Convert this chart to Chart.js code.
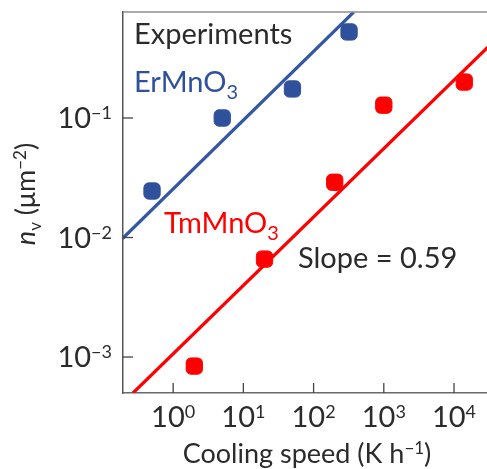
<!DOCTYPE html>
<html>
<head>
<meta charset="utf-8">
<script src="https://cdn.jsdelivr.net/npm/chart.js@4/dist/chart.umd.min.js"></script>
<style>
    body { margin: 0; background: white; }
    #wrap { width: 487px; height: 469px; }
</style>
</head>
<body>
<div id="wrap"><canvas id="myChart" width="487" height="469"></canvas></div>
<script>
// measured points
const er_speed = [0.5, 5, 50, 320]
const er_density = [0.0245, 0.1, 0.175, 0.525]
const tm_speed = [2, 20, 200, 1000, 14000]
const tm_density = [0.00084, 0.0066, 0.029, 0.128, 0.2]

// fitted lines (slope 0.59), end points
const er_fit_speed = [0.19, 373]
const er_fit_density = [0.0098, 0.77]
const tm_fit_speed = [0.268, 30600]
const tm_fit_density = [0.0005, 0.393]

// axes
const x_ticks = [1, 10, 100, 1000, 10000]
const x_tick_exp = ['0', '1', '2', '3', '4']
const y_ticks = [0.001, 0.01, 0.1]
const y_tick_exp = ['\u22123', '\u22122', '\u22121']

const BLUE = '#2f519c'
const RED = '#ff0000'
const DARK = '#2b2b2b'
const FONT = 'Lato'

function to_points(xs, ys) {
    return xs.map((x, i) => ({x: x, y: ys[i]}))
}

// draws a row of text pieces, each with own size/offset
function draw_rich(ctx, parts, x, y, align) {
    let width = 0
    parts.forEach(p => {
        ctx.font = `${p.italic ? 'italic ' : ''}${p.size}px ${FONT}`
        p.w = ctx.measureText(p.t).width
        width += p.w
    })
    let start = x
    if (align == 'center') start = x - width / 2
    if (align == 'right') start = x - width
    ctx.textAlign = 'left'
    ctx.textBaseline = 'alphabetic'
    parts.forEach(p => {
        ctx.font = `${p.italic ? 'italic ' : ''}${p.size}px ${FONT}`
        ctx.fillText(p.t, start, y + (p.dy || 0))
        start += p.w
    })
}

const decorations = {
    id: 'decorations',
    afterDraw(chart) {
        const ctx = chart.ctx
        const area = chart.chartArea
        const xs = chart.scales.x
        const ys = chart.scales.y
        ctx.save()

        // top frame line
        ctx.strokeStyle = '#8c8c8c'
        ctx.lineWidth = 1.5
        ctx.beginPath()
        ctx.moveTo(area.left, area.top)
        ctx.lineTo(487, area.top)
        ctx.stroke()

        // inward ticks
        ctx.strokeStyle = '#444'
        ctx.lineWidth = 1.3
        x_ticks.forEach(v => {
            let px = xs.getPixelForValue(v)
            ctx.beginPath()
            ctx.moveTo(px, area.bottom)
            ctx.lineTo(px, area.bottom - 10)
            ctx.stroke()
        })
        y_ticks.forEach(v => {
            let py = ys.getPixelForValue(v)
            ctx.beginPath()
            ctx.moveTo(area.left, py)
            ctx.lineTo(area.left + 10, py)
            ctx.stroke()
        })

        // tick labels
        ctx.fillStyle = DARK
        x_ticks.forEach((v, i) => {
            let px = xs.getPixelForValue(v)
            draw_rich(ctx, [{t: '10', size: 29}, {t: x_tick_exp[i], size: 18, dy: -9}], px, area.bottom + 34, 'center')
        })
        y_ticks.forEach((v, i) => {
            let py = ys.getPixelForValue(v)
            draw_rich(ctx, [{t: '10', size: 29}, {t: y_tick_exp[i], size: 18, dy: -9}], area.left - 11, py + 10, 'right')
        })

        // axis titles
        draw_rich(ctx, [{t: 'Cooling speed (K h', size: 27}, {t: '\u22121', size: 17, dy: -9}, {t: ')', size: 27}], 307, 463, 'center')
        ctx.save()
        ctx.translate(35, 194)
        ctx.rotate(-Math.PI / 2)
        draw_rich(ctx, [{t: 'n', size: 27, italic: true}, {t: 'v', size: 17, dy: 6}, {t: ' (\u03bcm', size: 27}, {t: '\u22122', size: 17, dy: -9}, {t: ')', size: 27}], 0, 0, 'center')
        ctx.restore()

        // labels inside the plot
        ctx.fillStyle = DARK
        draw_rich(ctx, [{t: 'Experiments', size: 29}], 134, 44, 'left')
        draw_rich(ctx, [{t: 'Slope = 0.59', size: 29}], 298, 268, 'left')
        ctx.fillStyle = BLUE
        draw_rich(ctx, [{t: 'ErMnO', size: 29}, {t: '3', size: 20, dy: 7}], 134, 92, 'left')
        ctx.fillStyle = RED
        draw_rich(ctx, [{t: 'TmMnO', size: 29}, {t: '3', size: 20, dy: 7}], 164, 233, 'left')

        ctx.restore()
    }
}

let data = {
    datasets: [{
        label: 'ErMnO3',
        data: to_points(er_speed, er_density),
        backgroundColor: BLUE,
        borderColor: BLUE,
        pointStyle: 'rectRounded',
        pointRadius: 9.5,
        showLine: false
    }, {
        label: 'TmMnO3',
        data: to_points(tm_speed, tm_density),
        backgroundColor: RED,
        borderColor: RED,
        pointStyle: 'rectRounded',
        pointRadius: 9.5,
        showLine: false
    }, {
        label: 'ErMnO3 fit',
        data: to_points(er_fit_speed, er_fit_density),
        borderColor: '#3457a3',
        borderWidth: 3.2,
        pointRadius: 0,
        showLine: true
    }, {
        label: 'TmMnO3 fit',
        data: to_points(tm_fit_speed, tm_fit_density),
        borderColor: RED,
        borderWidth: 3.2,
        pointRadius: 0,
        showLine: true
    }]
}

let config = {
    type: 'scatter',
    data: data,
    options: {
        responsive: false,
        animation: false,
        layout: { autoPadding: false, padding: { left: 123, top: 12, right: 0, bottom: 76 } },
        plugins: { legend: { display: false }, tooltip: { enabled: false } },
        scales: {
            x: {
                type: 'logarithmic',
                min: 0.193,
                max: 29500,
                ticks: { display: false },
                grid: { display: false, drawTicks: false },
                border: { display: true, color: '#6a6a6a', width: 1.5 }
            },
            y: {
                type: 'logarithmic',
                min: 0.0005,
                max: 0.771,
                ticks: { display: false },
                grid: { display: false, drawTicks: false },
                border: { display: true, color: '#555', width: 1.5 }
            }
        }
    },
    plugins: [decorations]
}

let myChart = new Chart(document.getElementById('myChart'), config)
</script>
</body>
</html>
